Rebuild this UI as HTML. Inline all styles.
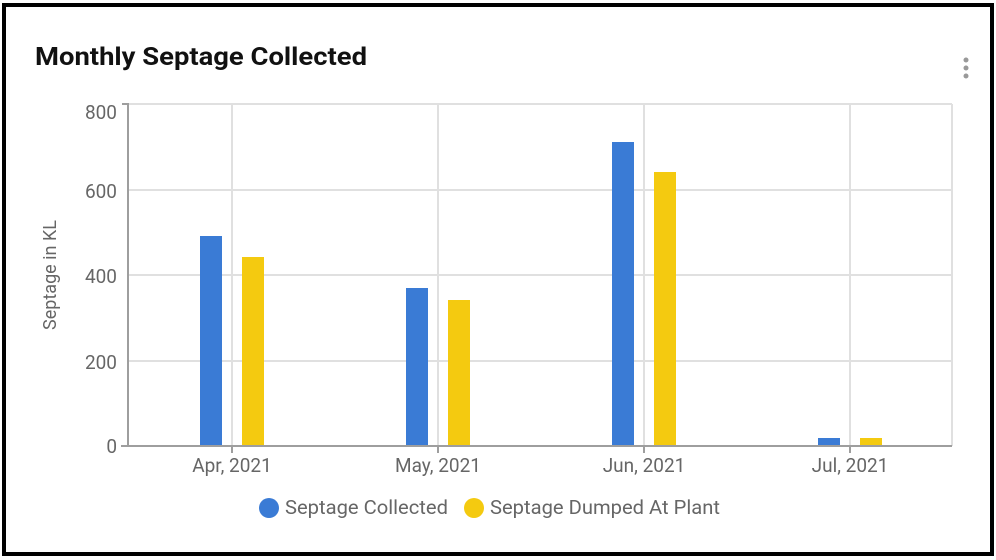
<!DOCTYPE html><html><head><style>body{margin:0;background:#fff}svg{display:block}</style></head><body>
<svg width="996" height="560" xmlns="http://www.w3.org/2000/svg" font-family="Roboto, 'Liberation Sans', sans-serif">
<rect x="4" y="5" width="988" height="549" fill="#fff" stroke="#000" stroke-width="4"/>
<text x="35" y="65" font-size="25" font-weight="bold" fill="#111" textLength="332" lengthAdjust="spacingAndGlyphs">Monthly Septage Collected</text>
<circle cx="966" cy="60" r="2.5" fill="#999"/><circle cx="966" cy="68" r="2.5" fill="#999"/><circle cx="966" cy="76" r="2.5" fill="#999"/>
<g stroke="#e0e0e0" stroke-width="2">
<line x1="128" y1="104" x2="952" y2="104"/><line x1="128" y1="190" x2="952" y2="190"/><line x1="128" y1="275" x2="952" y2="275"/><line x1="128" y1="361" x2="952" y2="361"/>
<line x1="232" y1="104" x2="232" y2="446"/><line x1="438" y1="104" x2="438" y2="446"/><line x1="644" y1="104" x2="644" y2="446"/><line x1="850" y1="104" x2="850" y2="446"/><line x1="952" y1="104" x2="952" y2="446"/>
</g>
<g fill="#3a7bd5"><rect x="200" y="236" width="22" height="210"/><rect x="406" y="288" width="22" height="158"/><rect x="612" y="142" width="22" height="304"/><rect x="818" y="438" width="22" height="8"/></g>
<g fill="#f4ca10"><rect x="242" y="257" width="22" height="189"/><rect x="448" y="300" width="22" height="146"/><rect x="654" y="172" width="22" height="274"/><rect x="860" y="438" width="22" height="8"/></g>
<g stroke="#9e9e9e" stroke-width="2"><line x1="128" y1="103" x2="128" y2="447"/><line x1="121" y1="446" x2="952" y2="446"/><line x1="122" y1="104" x2="128" y2="104"/>
<line x1="232" y1="446" x2="232" y2="453"/><line x1="438" y1="446" x2="438" y2="453"/><line x1="644" y1="446" x2="644" y2="453"/><line x1="850" y1="446" x2="850" y2="453"/></g>
<g font-size="19" fill="#666" text-anchor="end"><text x="117" y="119">800</text><text x="117" y="198">600</text><text x="117" y="283">400</text><text x="117" y="369">200</text><text x="117" y="453">0</text></g>
<g font-size="19" fill="#666" text-anchor="middle"><text x="232" y="472">Apr, 2021</text><text x="438" y="472">May, 2021</text><text x="644" y="472">Jun, 2021</text><text x="850" y="472">Jul, 2021</text></g>
<text transform="translate(56,275) rotate(-90)" font-size="18" fill="#666" text-anchor="middle">Septage in KL</text>
<circle cx="269" cy="508" r="10" fill="#3a7bd5"/><text x="285" y="514" font-size="19" fill="#666" textLength="163" lengthAdjust="spacingAndGlyphs">Septage Collected</text>
<circle cx="474" cy="508" r="10" fill="#f4ca10"/><text x="490" y="514" font-size="19" fill="#666" textLength="230" lengthAdjust="spacingAndGlyphs">Septage Dumped At Plant</text>
</svg></body></html>
